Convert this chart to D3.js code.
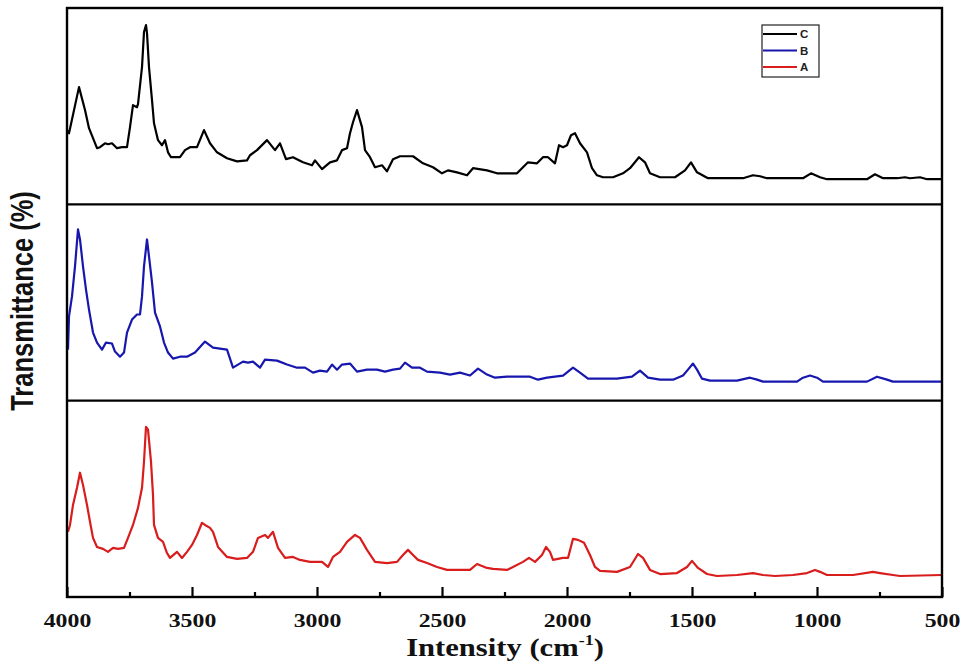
<!DOCTYPE html>
<html>
<head>
<meta charset="utf-8">
<script src="https://cdn.jsdelivr.net/npm/d3@7"></script>
<style>
  html, body { margin: 0; padding: 0; background: #fff; }
  svg { display: block; }
</style>
</head>
<body>
<svg id="chart" width="965" height="663"></svg>
<script>
// FTIR spectra, wavenumber (cm-1) vs. relative transmittance (0-100 within each panel)
const seriesNames = ["C", "B", "A"];
const seriesColors = ["#000000", "#1717ad", "#d91c1c"];

const spectrumC = [
  [4000,37.8],[3992,36.2],[3952,59.7],[3928,48.0],[3912,38.8],[3880,28.6],[3868,29.1],[3848,31.1],
  [3836,30.6],[3820,31.1],[3800,28.6],[3780,29.1],[3760,29.1],[3748,39.3],[3736,50.5],[3720,49.5],
  [3716,51.0],[3700,69.9],[3692,87.8],[3684,91.3],[3680,87.2],[3672,69.9],[3660,53.1],[3652,41.3],
  [3636,32.7],[3620,30.1],[3608,32.7],[3596,26.5],[3584,24.0],[3548,24.0],[3528,27.6],[3508,29.1],
  [3480,29.1],[3452,37.8],[3428,31.1],[3400,26.5],[3360,23.5],[3320,21.9],[3280,22.4],[3268,25.0],
  [3240,27.6],[3200,32.7],[3168,27.6],[3148,31.1],[3124,23.0],[3096,24.0],[3056,21.4],[3020,19.9],
  [3008,22.4],[2980,17.9],[2948,21.4],[2920,22.4],[2900,27.6],[2880,28.6],[2868,36.2],[2856,41.8],
  [2840,48.0],[2820,39.3],[2808,27.6],[2788,24.0],[2768,18.9],[2740,19.9],[2720,16.8],[2696,23.0],
  [2668,24.5],[2616,24.5],[2576,20.9],[2536,18.9],[2500,15.8],[2476,17.3],[2440,16.3],[2400,14.8],
  [2376,18.4],[2320,17.3],[2280,15.8],[2200,15.8],[2180,18.4],[2156,21.4],[2120,20.9],[2096,24.0],
  [2076,24.0],[2048,20.9],[2032,30.1],[2016,29.1],[2000,30.1],[1984,35.2],[1968,36.2],[1948,31.1],
  [1920,26.5],[1900,18.4],[1880,14.8],[1856,13.8],[1816,13.8],[1776,15.8],[1748,18.4],[1712,24.0],
  [1688,21.4],[1668,15.8],[1628,13.8],[1568,13.8],[1528,17.3],[1504,21.4],[1480,16.3],[1436,13.3],
  [1296,13.3],[1256,14.8],[1228,14.3],[1200,13.3],[1056,13.3],[1024,15.8],[988,13.8],[960,12.8],
  [800,12.8],[768,15.3],[736,13.3],[680,13.3],[648,13.8],[628,13.3],[588,13.8],[560,12.8],[500,12.8]
];

const spectrumB = [
  [3996,26.0],[3992,42.9],[3980,53.1],[3968,68.4],[3956,87.2],[3948,82.1],[3936,68.4],[3924,56.6],
  [3912,46.4],[3896,34.7],[3880,29.6],[3860,26.0],[3844,29.6],[3820,29.1],[3808,25.0],[3788,22.4],
  [3772,24.5],[3760,34.7],[3740,41.3],[3720,43.9],[3708,43.9],[3700,53.1],[3692,68.4],[3680,82.1],
  [3672,73.5],[3660,60.2],[3648,44.9],[3628,37.8],[3612,29.6],[3596,24.5],[3576,21.4],[3548,22.4],
  [3520,22.4],[3488,24.5],[3448,30.1],[3416,27.0],[3360,26.0],[3336,16.8],[3296,19.9],[3276,19.4],
  [3256,19.9],[3228,16.8],[3208,20.9],[3160,20.4],[3120,18.4],[3080,16.8],[3048,16.8],[3016,14.3],
  [2988,15.3],[2960,14.8],[2940,18.4],[2920,15.8],[2900,18.4],[2868,18.9],[2840,14.8],[2800,15.8],
  [2760,15.8],[2728,14.8],[2696,15.8],[2668,16.3],[2648,19.4],[2620,16.8],[2588,16.8],[2560,14.8],
  [2508,14.3],[2468,13.3],[2428,14.3],[2388,12.8],[2356,16.3],[2320,13.3],[2288,11.7],[2240,12.2],
  [2148,12.2],[2116,10.7],[2080,11.7],[2016,12.8],[1976,16.8],[1948,14.3],[1916,11.2],[1800,11.2],
  [1740,12.2],[1708,15.3],[1676,11.7],[1628,10.7],[1576,10.7],[1536,12.8],[1516,15.8],[1496,18.9],
  [1480,15.8],[1460,11.2],[1428,10.2],[1320,10.2],[1268,11.7],[1240,10.7],[1216,9.7],[1080,9.7],
  [1056,11.7],[1028,12.8],[1000,11.7],[976,9.7],[800,9.7],[760,12.2],[720,10.7],[696,9.7],[500,9.7]
];

const spectrumA = [
  [3996,33.2],[3988,36.7],[3976,46.9],[3960,55.6],[3948,63.3],[3936,57.1],[3920,46.9],[3908,38.3],
  [3896,30.1],[3880,25.5],[3856,24.5],[3836,23.0],[3816,25.0],[3796,24.5],[3772,25.0],[3756,30.1],
  [3736,36.7],[3716,45.4],[3700,55.6],[3692,68.9],[3684,86.7],[3676,85.2],[3664,68.9],[3656,52.0],
  [3652,36.7],[3636,30.1],[3616,28.1],[3600,22.4],[3588,19.9],[3560,23.0],[3540,19.9],[3520,23.0],
  [3500,26.5],[3480,31.6],[3460,37.8],[3448,36.7],[3428,35.2],[3416,33.2],[3396,25.5],[3360,20.4],
  [3320,19.4],[3280,19.9],[3256,23.0],[3236,30.1],[3208,31.6],[3196,30.1],[3176,33.2],[3156,25.0],
  [3128,19.9],[3096,20.4],[3068,18.9],[3028,17.9],[2980,17.9],[2956,15.3],[2936,20.4],[2908,23.0],
  [2880,28.1],[2848,31.6],[2828,30.1],[2800,24.0],[2768,17.9],[2720,17.3],[2680,17.9],[2656,21.4],
  [2636,24.0],[2616,21.4],[2596,18.9],[2560,17.3],[2520,15.3],[2480,13.8],[2388,13.8],[2360,16.8],
  [2320,14.8],[2296,14.3],[2240,13.8],[2216,15.3],[2176,17.9],[2152,19.9],[2128,17.9],[2100,21.4],
  [2084,25.5],[2068,23.0],[2056,18.9],[2016,19.9],[1996,19.9],[1976,29.6],[1956,29.1],[1932,27.6],
  [1908,21.4],[1888,15.3],[1868,13.3],[1800,12.8],[1748,15.3],[1716,21.9],[1696,19.9],[1668,13.8],
  [1628,11.7],[1560,12.2],[1520,15.3],[1500,18.4],[1476,14.8],[1440,11.7],[1400,10.7],[1320,11.2],
  [1256,12.2],[1216,11.2],[1168,10.7],[1096,11.2],[1040,12.2],[1008,13.8],[988,12.8],[960,11.2],
  [856,11.2],[776,12.8],[748,12.2],[696,11.2],[668,10.7],[500,11.2]
];

const spectra = [spectrumC, spectrumB, spectrumA];
const majorTicks = [4000, 3500, 3000, 2500, 2000, 1500, 1000, 500];
const minorTicks = [3750, 3250, 2750, 2250, 1750, 1250, 750];
const xTitle = "Intensity (cm";
const xTitleSup = "-1";
const yTitle = "Transmittance (%)";

// layout
const plotLeft = 67, plotRight = 942, plotTop = 8, plotBottom = 597;
const panelH = (plotBottom - plotTop) / 3;
const svg = d3.select("#chart");

const x = d3.scaleLinear().domain([4000, 500]).range([plotLeft, plotRight]);

// spectra, one panel each
spectra.forEach((data, i) => {
  const pTop = plotTop + i * panelH;
  const y = d3.scaleLinear().domain([0, 100]).range([pTop + panelH, pTop]);
  const line = d3.line().x(d => x(d[0])).y(d => y(d[1]));
  svg.append("path")
    .datum(data)
    .attr("d", line)
    .attr("fill", "none")
    .attr("stroke", seriesColors[i])
    .attr("stroke-width", 2.2)
    .attr("stroke-linejoin", "round");
});

// panel separators
for (let i = 1; i < 3; i++) {
  const yy = plotTop + i * panelH;
  svg.append("line")
    .attr("x1", plotLeft).attr("x2", plotRight)
    .attr("y1", yy).attr("y2", yy)
    .attr("stroke", "#000").attr("stroke-width", 2.2);
}

// frame
svg.append("rect")
  .attr("x", plotLeft).attr("y", plotTop)
  .attr("width", plotRight - plotLeft).attr("height", plotBottom - plotTop)
  .attr("fill", "none").attr("stroke", "#000").attr("stroke-width", 2.4);

// bottom axis: major ticks with labels, minor ticks without
const axisG = svg.append("g").attr("transform", `translate(0,${plotBottom})`);
axisG.call(d3.axisBottom(x).tickValues(majorTicks).tickSize(-10).tickFormat(d3.format("d")));
const minorG = svg.append("g").attr("transform", `translate(0,${plotBottom})`);
minorG.call(d3.axisBottom(x).tickValues(minorTicks).tickSize(-5).tickFormat(""));

[axisG, minorG].forEach(g => {
  g.select(".domain").remove();
  g.selectAll(".tick line").attr("stroke", "#000").attr("stroke-width", 2.2);
});
axisG.selectAll(".tick text")
  .attr("y", 30).attr("dy", 0)
  .attr("transform", "scale(1.22,1)")
  .attr("fill", "#111")
  .style("font-family", "'Liberation Serif', 'Times New Roman', serif")
  .style("font-weight", "bold")
  .style("font-size", "19.5px");

// axis titles
const xt = svg.append("text")
  .attr("transform", `translate(505,656) scale(1.2,1)`)
  .attr("text-anchor", "middle")
  .attr("fill", "#111")
  .style("font-family", "'Liberation Serif', 'Times New Roman', serif")
  .style("font-weight", "bold")
  .style("font-size", "25.5px");
xt.append("tspan").text(xTitle);
xt.append("tspan").attr("dy", -11).style("font-size", "15px").text(xTitleSup);
xt.append("tspan").attr("dy", 11).text(")");

svg.append("text")
  .attr("transform", `translate(33,301) scale(1.24,1) rotate(-90)`)
  .attr("text-anchor", "middle")
  .attr("fill", "#111")
  .style("font-family", "'Liberation Sans', Arial, sans-serif")
  .style("font-weight", "bold")
  .style("font-size", "25.5px")
  .text(yTitle);

// legend
const lg = svg.append("g");
lg.append("rect")
  .attr("x", 762).attr("y", 25).attr("width", 57).attr("height", 52)
  .attr("fill", "#fff").attr("stroke", "#222").attr("stroke-width", 1.2);
seriesNames.forEach((name, i) => {
  const yy = 34 + i * 16.5;
  lg.append("line")
    .attr("x1", 763).attr("x2", 797)
    .attr("y1", yy).attr("y2", yy)
    .attr("stroke", seriesColors[i]).attr("stroke-width", 2.2);
  lg.append("text")
    .attr("x", 800).attr("y", yy + 4.2)
    .attr("fill", "#222")
    .style("font-family", "'Liberation Sans', Arial, sans-serif")
    .style("font-weight", "bold")
    .style("font-size", "11.5px")
    .text(name);
});
</script>
</body>
</html>
